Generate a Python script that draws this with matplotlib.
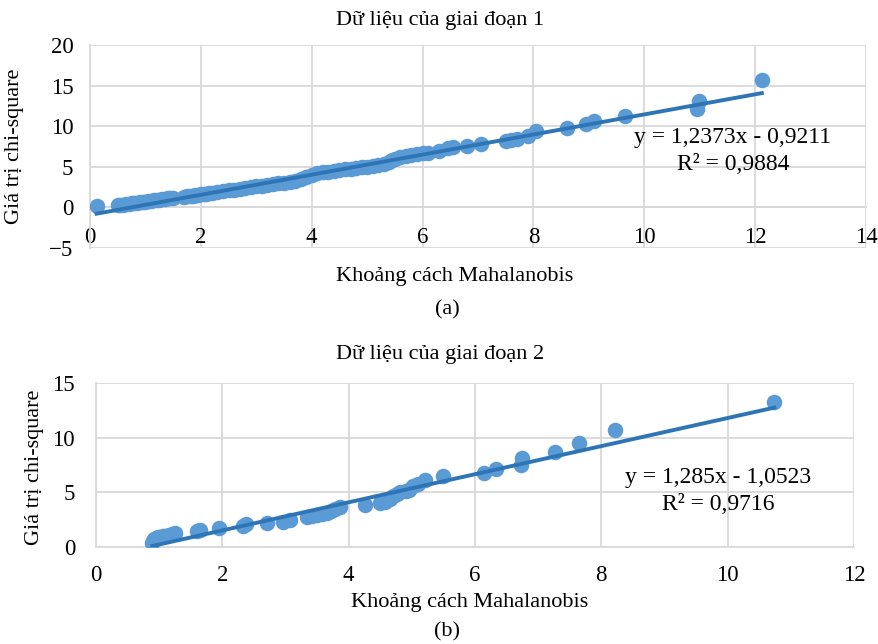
import matplotlib
matplotlib.use("Agg")
import matplotlib.pyplot as plt
import numpy as np

plt.rcParams['font.family'] = ['Liberation Serif', 'DejaVu Serif']

# ---- Data: stage 1 ----
x_a = [0.12,
       0.50, 0.55, 0.60, 0.65, 0.70, 0.75, 0.80, 0.85, 0.90, 0.95, 1.00, 1.05, 1.10, 1.15, 1.20, 1.25, 1.30, 1.35, 1.40, 1.45, 1.50,
       1.70, 1.75, 1.80, 1.85, 1.90, 1.95, 2.00, 2.05, 2.10, 2.15, 2.20,
       2.30, 2.40, 2.50, 2.60, 2.70, 2.80, 2.90, 3.00, 3.10, 3.20, 3.30, 3.40, 3.50, 3.60, 3.70, 3.80, 3.90, 4.00, 4.10, 4.20, 4.30, 4.40, 4.50,
       4.60, 4.70, 4.80, 4.90, 5.00, 5.10, 5.20, 5.30,
       5.40, 5.45, 5.50, 5.60, 5.70, 5.80, 5.90, 6.00, 6.10, 6.30,
       6.45, 6.55, 6.80, 7.05,
       7.50, 7.60, 7.70, 7.90, 8.05,
       8.60, 8.95, 9.10, 9.65,
       10.95, 10.98, 12.12]
y_a = [0.15,
       0.25, 0.30, 0.35, 0.40, 0.45, 0.50, 0.55, 0.60, 0.62, 0.68, 0.72, 0.78, 0.82, 0.88, 0.92, 0.97, 1.00, 1.05, 1.10, 1.12, 1.18,
       1.30, 1.35, 1.40, 1.45, 1.50, 1.55, 1.60, 1.65, 1.70, 1.72, 1.78,
       1.90, 2.00, 2.10, 2.20, 2.28, 2.38, 2.48, 2.58, 2.66, 2.76, 2.86, 2.95, 3.05, 3.15, 3.30, 3.55, 3.80, 4.05, 4.20, 4.32, 4.42, 4.50, 4.60,
       4.70, 4.78, 4.85, 4.95, 5.02, 5.10, 5.18, 5.30,
       5.55, 5.80, 6.00, 6.20, 6.35, 6.45, 6.55, 6.65, 6.75, 6.90,
       7.30, 7.45, 7.60, 7.86,
       8.14, 8.30, 8.44, 8.85, 9.46,
       9.79, 10.28, 10.70, 11.30,
       12.10, 13.15, 15.75]
slope_a, icpt_a = 1.2373, -0.9211
eq_a = ["y = 1,2373x - 0,9211", "R² = 0,9884"]

# ---- Data: stage 2 ----
x_b = [0.89, 0.90, 0.92, 0.95, 0.98, 1.02, 1.06, 1.10, 1.15, 1.20, 1.25,
       1.60, 1.64, 1.94, 2.33, 2.38, 2.70, 2.96, 3.07,
       3.34, 3.42, 3.50, 3.58, 3.65, 3.72, 3.78, 3.86,
       4.26, 4.50, 4.58, 4.65, 4.70, 4.76, 4.82, 4.90, 4.96, 5.02, 5.10, 5.21,
       5.50, 6.15, 6.34, 6.73, 6.75, 7.26, 7.65, 8.21, 10.74]
y_b = [0.35, 0.55, 0.70, 0.80, 0.88, 0.95, 1.00, 1.05, 1.10, 1.18, 1.30,
       1.45, 1.60, 1.73, 1.95, 2.10, 2.24, 2.33, 2.50,
       2.70, 2.80, 2.90, 3.00, 3.10, 3.25, 3.45, 3.70,
       3.85, 4.00, 4.15, 4.40, 4.65, 4.85, 5.00, 5.10, 5.25, 5.55, 5.80, 6.10,
       6.48, 6.78, 7.12, 7.50, 8.10, 8.70, 9.50, 10.73, 13.30]
slope_b, icpt_b = 1.285, -1.0523
eq_b = ["y = 1,285x - 1,0523", "R² = 0,9716"]

titles = ["Dữ liệu của giai đoạn 1", "Dữ liệu của giai đoạn 2"]
xlabel = "Khoảng cách Mahalanobis"
ylabel = "Giá trị chi-square"
xticks_a = [0, 2, 4, 6, 8, 10, 12, 14]
yticks_a = [-5, 0, 5, 10, 15, 20]
xticks_b = [0, 2, 4, 6, 8, 10, 12]
yticks_b = [0, 5, 10, 15]

W, H = 879, 644
fig = plt.figure(figsize=(W / 100, H / 100), dpi=100)

def px(x0, y0, x1, y1):
    return [x0 / W, 1 - y1 / H, (x1 - x0) / W, (y1 - y0) / H]

MC = '#5B9BD5'
LC = '#2E75B6'
GC = '#D9D9D9'
FS = 16
TFS = 16.5

def style(ax, xt, yt, xlim, ylim):
    ax.set_xlim(*xlim)
    ax.set_ylim(*ylim)
    ax.set_xticks(xt)
    ax.set_yticks(yt)
    ax.grid(True, color=GC, linewidth=1.3)
    ax.set_axisbelow(True)
    for s in ['top', 'right']:
        ax.spines[s].set_visible(False)
    for s in ['left', 'bottom']:
        ax.spines[s].set_color(GC)
        ax.spines[s].set_linewidth(1.3)
    ax.tick_params(length=0, labelsize=TFS)

# top chart
ax1 = fig.add_axes(px(90, 45, 866, 248))
style(ax1, xticks_a, yticks_a, (0, 14), (-5, 20))
ax1.spines['bottom'].set_position(('data', 0))
ax1.tick_params(axis='x', pad=14)
ax1.tick_params(axis='y', pad=12)
ax1.scatter(x_a, y_a, s=125, color=MC, zorder=3, linewidths=0)
xa = np.array([min(x_a), max(x_a)])
ax1.plot(xa, slope_a * xa + icpt_a, color=LC, linewidth=2.8, zorder=4)

# bottom chart
ax2 = fig.add_axes(px(96, 383, 854, 547))
style(ax2, xticks_b, yticks_b, (0, 12), (0, 15))
ax2.tick_params(axis='x', pad=13)
ax2.tick_params(axis='y', pad=15)
ax2.scatter(x_b, y_b, s=125, color=MC, zorder=3, linewidths=0)
xb = np.array([min(x_b), max(x_b)])
ax2.plot(xb, slope_b * xb + icpt_b, color=LC, linewidth=2.8, zorder=4)

def ft(x, y, s, size=FS, **kw):
    fig.text(x / W, 1 - y / H, s, ha='center', va='center', fontsize=size, **kw)

ft(440, 20, titles[0])
ft(455, 276, xlabel)
ft(447, 310, "(a)")
ft(15, 146, ylabel, rotation=90)
ft(733, 138, eq_a[0], size=17)
ft(733, 165, eq_a[1], size=17)

ft(440, 355, titles[1])
ft(470, 602, xlabel)
ft(447, 632, "(b)")
ft(35, 467, ylabel, rotation=90)
ft(718, 477, eq_b[0], size=17)
ft(718, 504, eq_b[1], size=17)

fig.savefig("out.png", dpi=100)
